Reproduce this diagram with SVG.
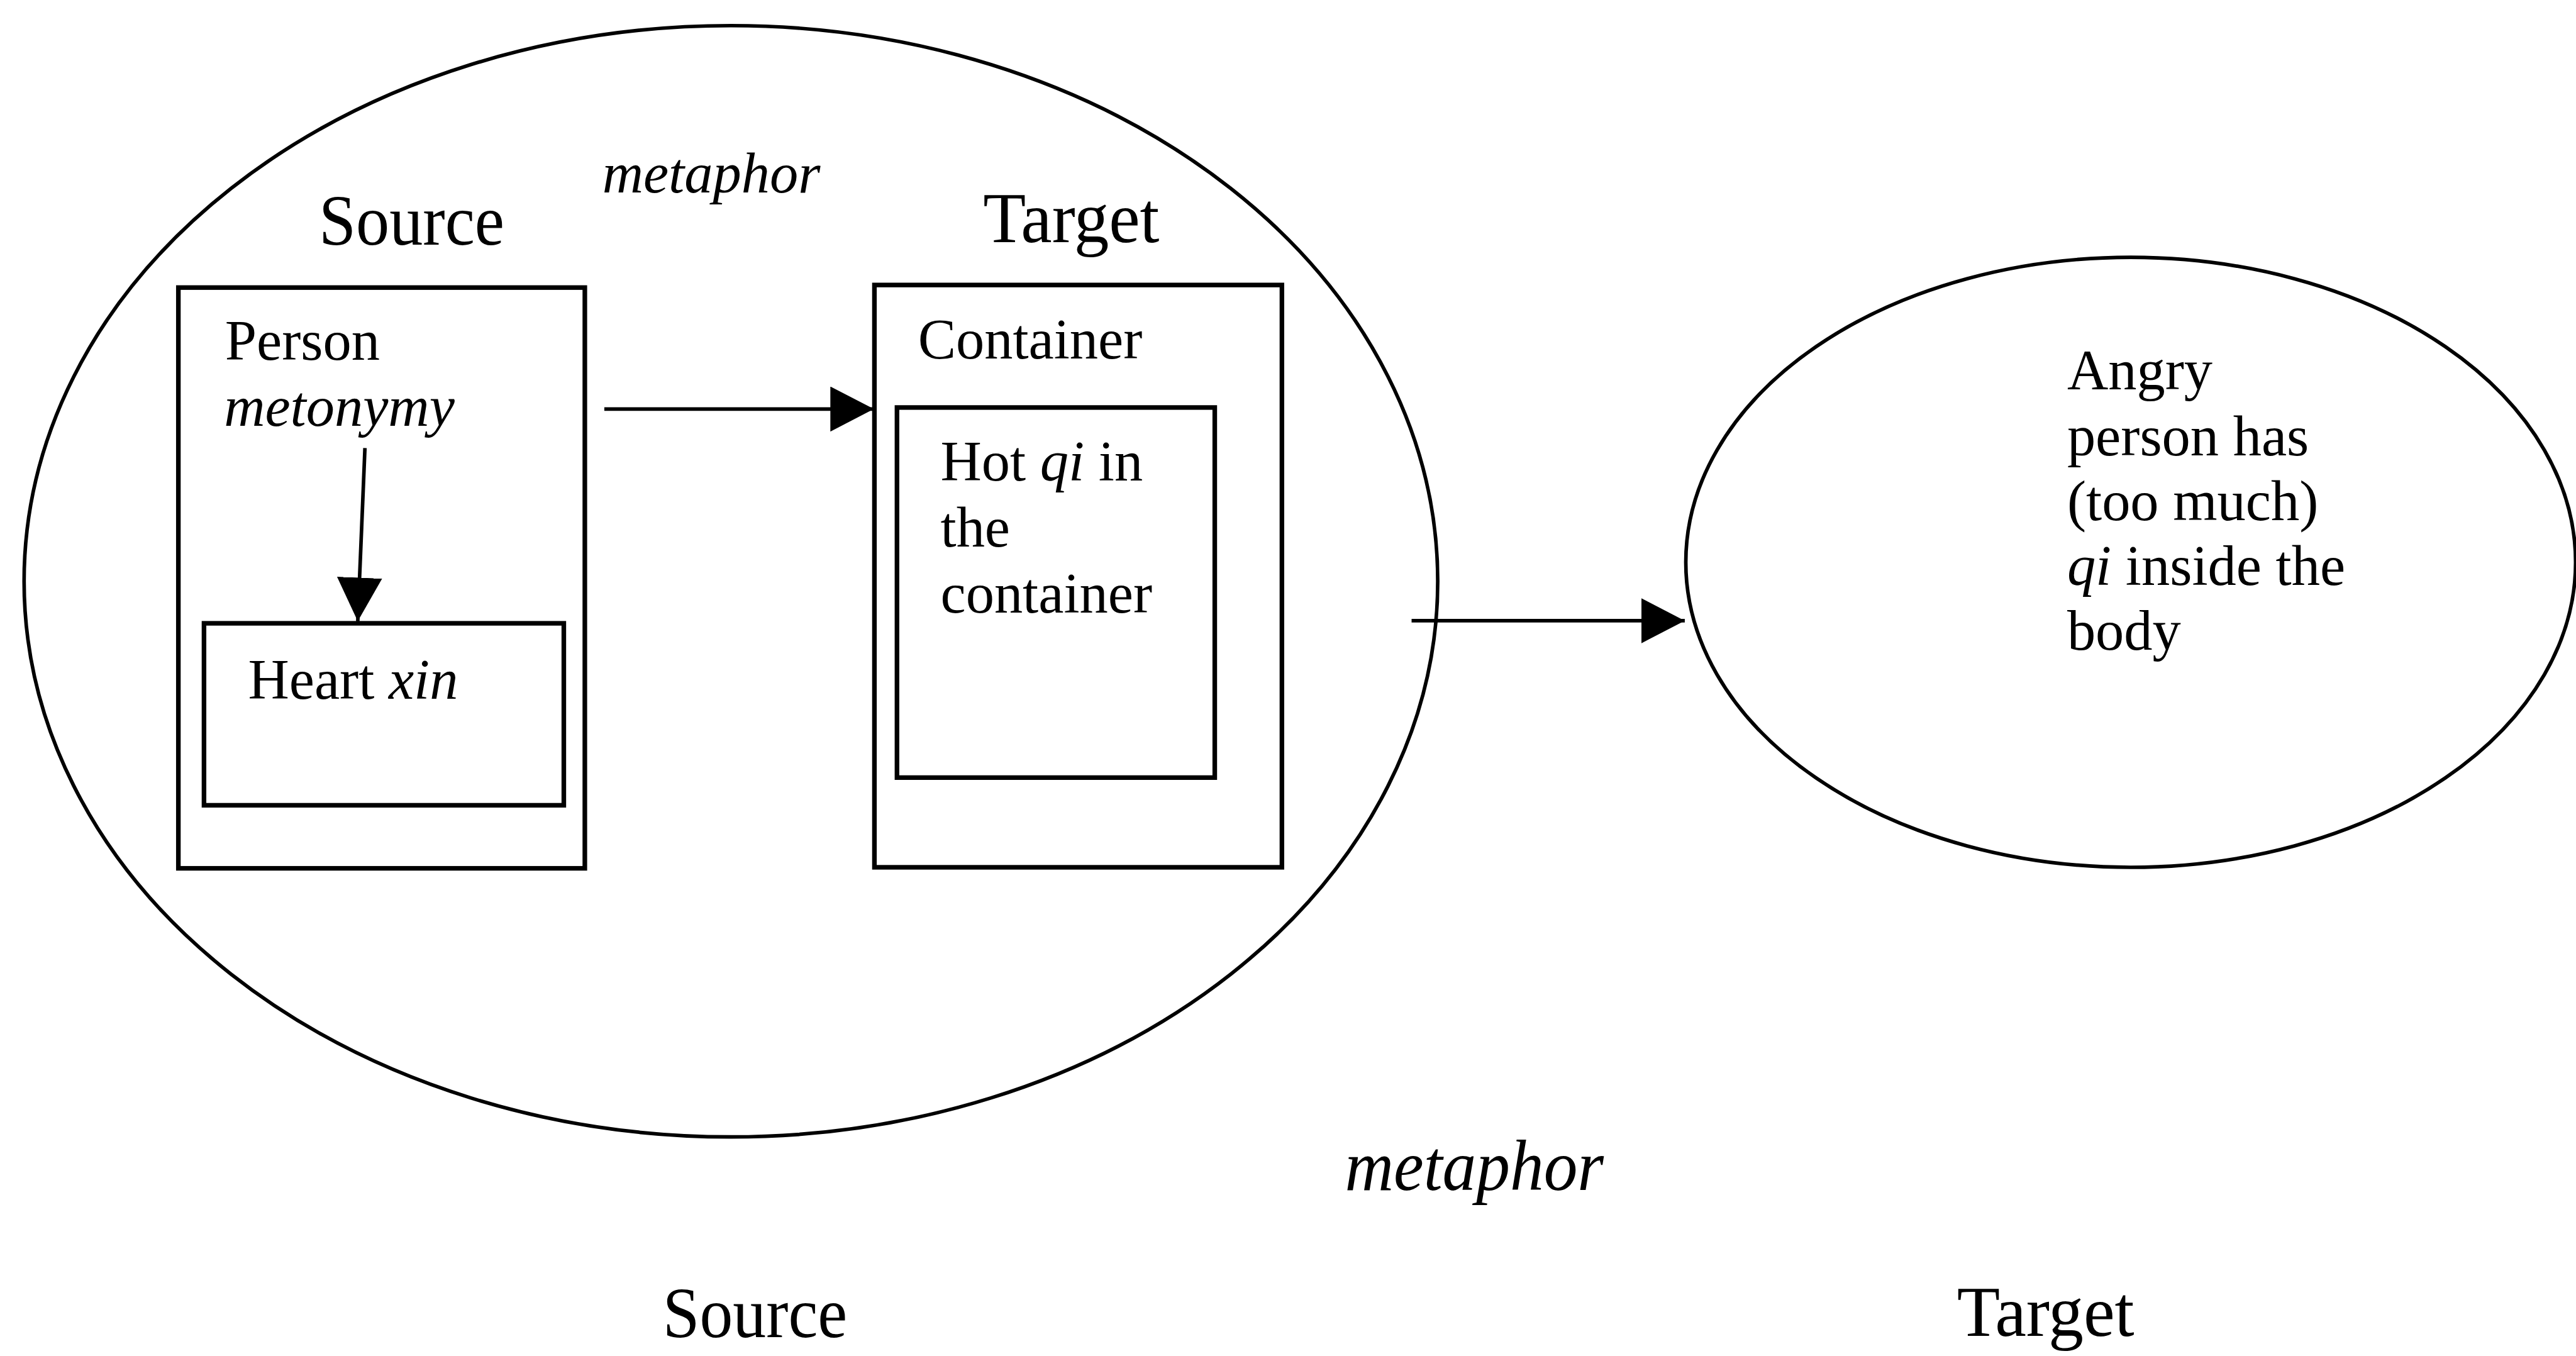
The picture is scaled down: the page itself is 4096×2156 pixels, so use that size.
<svg xmlns="http://www.w3.org/2000/svg" width="4096" height="2156" viewBox="0 0 4096 2156">
<style>
  text { font-family: "Liberation Serif", "Times New Roman", serif; fill: #000; }
  .lbl { font-size: 140px; }
  .body { font-size: 111px; }
  .it { font-style: italic; }
  .box { fill: none; stroke: #000; stroke-width: 9; }
  .oval { fill: none; stroke: #000; stroke-width: 7; }
  .conn { fill: none; stroke: #000; stroke-width: 7; marker-end: url(#tri); }
</style>
<defs>
  <marker id="tri" markerUnits="userSpaceOnUse" markerWidth="86" markerHeight="88" refX="85" refY="44" orient="auto" viewBox="0 0 86 88">
    <path d="M0,0 L85,44 L0,88 Z" fill="#000"/>
  </marker>
</defs>
<rect width="4096" height="2156" fill="#fff"/>
<g transform="scale(0.815)">
  <!-- outer mapping: source domain -->
  <g id="source-domain">
    <ellipse class="oval" cx="1426" cy="1134" rx="1379" ry="1084"/>
    <text class="lbl" x="622" y="477" textLength="362" lengthAdjust="spacingAndGlyphs">Source</text>
    <text class="lbl" x="1918" y="473" textLength="344" lengthAdjust="spacingAndGlyphs">Target</text>
    <text class="body it" x="1175" y="375">metaphor</text>
  </g>
  <g id="person">
    <rect class="box" x="348" y="561" width="793" height="1133"/>
    <text class="body" x="439" y="702">Person</text>
    <text class="body it" x="437" y="831">metonymy</text>
  </g>
  <g id="heart">
    <rect class="box" x="398" y="1216" width="702" height="355"/>
    <text class="body" x="484" y="1363">Heart <tspan class="it">xin</tspan></text>
  </g>
  <g id="container">
    <rect class="box" x="1706" y="556" width="795" height="1136"/>
    <text class="body" x="1791" y="699">Container</text>
  </g>
  <g id="hot-qi">
    <rect class="box" x="1750" y="795" width="620" height="722"/>
    <text class="body" x="1835" y="937">Hot <tspan class="it">qi</tspan> in</text>
    <text class="body" x="1835" y="1066">the</text>
    <text class="body" x="1835" y="1195">container</text>
  </g>
  <!-- target domain -->
  <g id="angry-person">
    <ellipse class="oval" cx="4157" cy="1097" rx="868" ry="595"/>
    <text class="body" x="4033" y="760">Angry</text>
    <text class="body" x="4033" y="888">person has</text>
    <text class="body" x="4033" y="1015">(too much)</text>
    <text class="body" x="4033" y="1141"><tspan class="it">qi</tspan> inside the</text>
    <text class="body" x="4033" y="1268">body</text>
  </g>
  <g id="captions">
    <text class="lbl" x="1293" y="2608" textLength="360" lengthAdjust="spacingAndGlyphs">Source</text>
    <text class="lbl it" x="2624" y="2321" textLength="505" lengthAdjust="spacingAndGlyphs">metaphor</text>
    <text class="lbl" x="3818" y="2606" textLength="346" lengthAdjust="spacingAndGlyphs">Target</text>
  </g>
  <g id="connectors">
    <line class="conn" x1="712" y1="874" x2="698" y2="1212"/>
    <line class="conn" x1="1179" y1="798" x2="1705" y2="798"/>
    <line class="conn" x1="2754" y1="1211" x2="3287" y2="1211"/>
  </g>
</g>
</svg>
